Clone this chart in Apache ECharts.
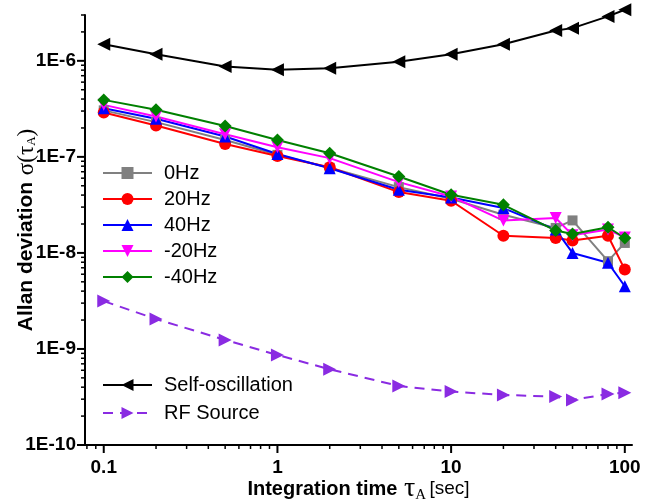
<!DOCTYPE html>
<html>
<head>
<meta charset="utf-8">
<script src="https://cdn.jsdelivr.net/npm/echarts@6/dist/echarts.min.js"></script>
<style>
html, body { margin: 0; padding: 0; background: #fff; }
#main { width: 646px; height: 504px; }
</style>
</head>
<body>
<div id="main"></div>
<script>
// integration time (sec)
var tau = [0.1, 0.2, 0.5, 1, 2, 5, 10, 20, 40, 50, 80, 100];

// Allan deviation
var hz0    = [3.05e-7, 2.30e-7, 1.50e-7, 1.05e-7, 7.7e-8, 4.84e-8, 3.66e-8, 2.50e-8, 1.82e-8, 2.18e-8, 8.2e-9, 1.27e-8];
var hz20   = [2.90e-7, 2.12e-7, 1.36e-7, 1.02e-7, 7.8e-8, 4.30e-8, 3.49e-8, 1.51e-8, 1.43e-8, 1.35e-8, 1.51e-8, 6.7e-9];
var hz40   = [3.21e-7, 2.49e-7, 1.63e-7, 1.07e-7, 7.6e-8, 4.54e-8, 3.78e-8, 2.93e-8, 1.75e-8, 1.00e-8, 7.9e-9, 4.5e-9];
var hzM20  = [3.48e-7, 2.63e-7, 1.72e-7, 1.26e-7, 9.7e-8, 5.46e-8, 3.87e-8, 2.17e-8, 2.31e-8, 1.53e-8, 1.75e-8, 1.45e-8];
var hzM40  = [3.92e-7, 3.09e-7, 2.10e-7, 1.50e-7, 1.09e-7, 6.25e-8, 4.03e-8, 3.17e-8, 1.71e-8, 1.57e-8, 1.85e-8, 1.43e-8];
var selfOsc  = [1.49e-6, 1.17e-6, 8.73e-7, 8.06e-7, 8.39e-7, 9.77e-7, 1.17e-6, 1.49e-6, 2.07e-6, 2.19e-6, 2.90e-6, 3.40e-6];
var rfSource = [3.15e-9, 2.05e-9, 1.24e-9, 8.66e-10, 6.14e-10, 4.12e-10, 3.60e-10, 3.32e-10, 3.19e-10, 2.94e-10, 3.40e-10, 3.51e-10];

// axis ticks
var xMajor = [0.1, 1, 10, 100];
var xMinor = [0.08, 0.09, 0.2, 0.3, 0.4, 0.5, 0.6, 0.7, 0.8, 0.9, 2, 3, 4, 5, 6, 7, 8, 9,
              20, 30, 40, 50, 60, 70, 80, 90];
var yMajor = [1e-10, 1e-9, 1e-8, 1e-7, 1e-6];
var yMinor = [];
yMajor.forEach(function (d) {
    for (var k = 2; k <= 9; k++) {
        if (d * k <= 3.01e-6) yMinor.push(d * k);
    }
});

var SANS = '"Liberation Sans", Arial, sans-serif';
var SERIF = '"Liberation Serif", "DejaVu Serif", serif';

function pairs(ys) {
    return tau.map(function (t, i) { return [t, ys[i]]; });
}

function lineSeries(name, ys, color, symbol, rotate, size, dashed) {
    return {
        name: name,
        type: 'line',
        data: pairs(ys),
        symbol: symbol,
        symbolRotate: rotate,
        symbolSize: size,
        showAllSymbol: true,
        clip: false,
        color: color,
        lineStyle: { color: color, width: 2, type: dashed ? [10, 7] : 'solid' },
        itemStyle: { color: color },
        z: 3
    };
}

function tickSeries(axis, list, len, width) {
    return {
        type: 'custom',
        silent: true,
        z: 6,
        data: list.map(function (v) { return axis === 'x' ? [v, 1e-8] : [1, v]; }),
        renderItem: function (params, api) {
            var cs = params.coordSys;
            var p = api.coord([api.value(0), api.value(1)]);
            var shape = axis === 'x'
                ? { x1: p[0], y1: cs.y + cs.height, x2: p[0], y2: cs.y + cs.height + len }
                : { x1: cs.x, y1: p[1], x2: cs.x - len, y2: p[1] };
            return { type: 'line', shape: shape, style: { stroke: '#000', lineWidth: width } };
        }
    };
}

var myChart = echarts.init(document.getElementById('main'));

option = {
    animation: false,
    backgroundColor: '#fff',
    grid: { left: 85, right: 14, top: 15, bottom: 59, containLabel: false, outerBoundsMode: 'none' },
    legend: [
        {
            data: ['0Hz', '20Hz', '40Hz', '-20Hz', '-40Hz'],
            orient: 'vertical',
            left: 97,
            top: 158,
            itemWidth: 49,
            itemHeight: 15,
            itemGap: 6,
            textStyle: { fontSize: 20, fontFamily: SANS, color: '#000', padding: [0, 0, 0, 7] }
        },
        {
            data: ['Self-oscillation', 'RF Source'],
            orient: 'vertical',
            left: 97,
            top: 370,
            itemWidth: 49,
            itemHeight: 15,
            itemGap: 8,
            textStyle: { fontSize: 20, fontFamily: SANS, color: '#000', padding: [0, 0, 0, 7] }
        }
    ],
    xAxis: {
        type: 'log',
        logBase: 10,
        min: 0.078,
        max: 110,
        name: '{b|Integration time}  {t|τ}{s|A} {n|[sec]}',
        nameLocation: 'middle',
        nameGap: 30,
        nameMoveOverlap: false,
        nameTextStyle: {
            rich: {
                b: { fontSize: 20, fontWeight: 'bold', fontFamily: SANS, color: '#000' },
                t: { fontSize: 28, fontFamily: SERIF, color: '#000' },
                s: { fontSize: 15, fontFamily: SERIF, color: '#000', verticalAlign: 'bottom' },
                n: { fontSize: 19, fontFamily: SANS, color: '#000' }
            }
        },
        axisLine: { lineStyle: { color: '#000', width: 2 } },
        axisTick: { show: false },
        splitLine: { show: false },
        axisLabel: {
            color: '#000',
            fontSize: 19,
            fontWeight: 'bold',
            fontFamily: SANS,
            margin: 13,
            formatter: function (v) {
                for (var i = 0; i < xMajor.length; i++) {
                    if (Math.abs(v - xMajor[i]) / xMajor[i] < 1e-6) return String(xMajor[i]);
                }
                return '';
            }
        }
    },
    yAxis: {
        type: 'log',
        logBase: 10,
        min: 1e-10,
        max: 3e-6,
        name: '{b|Allan deviation}  {g|σ(τ}{s|A}{g|)}',
        nameLocation: 'middle',
        nameRotate: 90,
        nameGap: 47,
        nameMoveOverlap: false,
        nameTextStyle: {
            rich: {
                b: { fontSize: 21, fontWeight: 'bold', fontFamily: SANS, color: '#000' },
                g: { fontSize: 23, fontFamily: SERIF, color: '#000' },
                s: { fontSize: 13, fontFamily: SERIF, color: '#000', verticalAlign: 'bottom' }
            }
        },
        axisLine: { lineStyle: { color: '#000', width: 2 } },
        axisTick: { show: false },
        splitLine: { show: false },
        axisLabel: {
            color: '#000',
            fontSize: 19,
            fontWeight: 'bold',
            fontFamily: SANS,
            margin: 9,
            formatter: function (v) {
                for (var i = 0; i < yMajor.length; i++) {
                    if (Math.abs(v - yMajor[i]) / yMajor[i] < 1e-6) {
                        return '1E' + Math.round(Math.log10(yMajor[i]));
                    }
                }
                return '';
            }
        }
    },
    series: [
        lineSeries('0Hz', hz0, '#808080', 'rect', 0, 10),
        lineSeries('20Hz', hz20, '#ff0000', 'circle', 0, 12),
        lineSeries('40Hz', hz40, '#0000ff', 'triangle', 0, 12),
        lineSeries('-20Hz', hzM20, '#ff00ff', 'triangle', 180, 12),
        lineSeries('-40Hz', hzM40, '#008000', 'diamond', 0, 13),
        lineSeries('Self-oscillation', selfOsc, '#000000', 'triangle', 90, 13),
        lineSeries('RF Source', rfSource, '#8a2be2', 'triangle', -90, 13, true),
        tickSeries('x', xMajor, 8, 2),
        tickSeries('x', xMinor, 4, 1.5),
        tickSeries('y', yMajor, 8, 2),
        tickSeries('y', yMinor, 4, 1.5)
    ]
};

if (option && typeof option === "object") {
    myChart.setOption(option, true);
}
</script>
</body>
</html>
